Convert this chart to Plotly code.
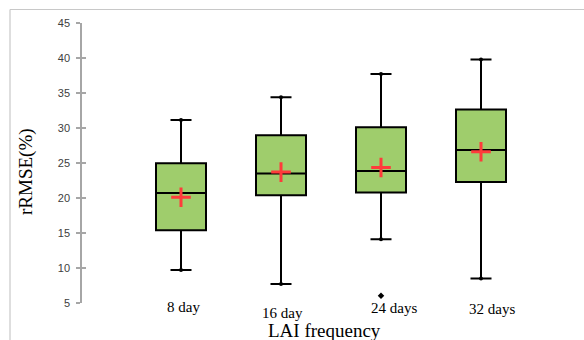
import plotly.graph_objects as go

categories = ["8 day", "16 day", "24 days", "32 days"]
lower_whisker = [9.7, 7.7, 14.1, 8.5]
q1_vals = [15.4, 20.4, 20.8, 22.3]
median_vals = [20.7, 23.5, 23.85, 26.85]
q3_vals = [24.95, 28.95, 30.1, 32.65]
upper_whisker = [31.15, 34.4, 37.7, 39.8]
mean_vals = [20.1, 23.7, 24.35, 26.6]
outlier_cat = ["24 days"]
outlier_vals = [6.05]

# label placement offsets (px) relative to category centre
label_dx = [2, 1, 13, 11]
label_y = [-0.013, -0.035, -0.0165, -0.022]

fig = go.Figure()
fig.add_trace(go.Box(
    x=categories, q1=q1_vals, median=median_vals, q3=q3_vals,
    lowerfence=lower_whisker, upperfence=upper_whisker,
    fillcolor="#9fcd6c", line=dict(color="black", width=2),
    width=0.5, whiskerwidth=0.42, boxpoints=False, showlegend=False,
    hoverinfo="skip",
))
# whisker end dots
fig.add_trace(go.Scatter(
    x=categories + categories, y=lower_whisker + upper_whisker, mode="markers",
    marker=dict(symbol="circle", size=4, color="black"), showlegend=False, hoverinfo="skip",
))
# means
fig.add_trace(go.Scatter(
    x=categories, y=mean_vals, mode="markers",
    marker=dict(symbol="cross-thin", size=14, line=dict(color="#ff3b3b", width=3)),
    showlegend=False, cliponaxis=False,
))
# outlier
fig.add_trace(go.Scatter(
    x=outlier_cat, y=outlier_vals, mode="markers",
    marker=dict(symbol="diamond", size=5, color="black"), showlegend=False, cliponaxis=False,
))
# invisible trace on y2 to show inner ticks
fig.add_trace(go.Scatter(x=categories, y=median_vals, yaxis="y2", mode="markers",
                         marker=dict(opacity=0), showlegend=False, hoverinfo="skip"))

annotations = []
for c, dx, yy in zip(categories, label_dx, label_y):
    annotations.append(dict(x=c, xref="x", y=yy, yref="paper", text=c, showarrow=False,
                            xshift=dx, yanchor="middle",
                            font=dict(family="Liberation Serif, Times New Roman, serif", size=15, color="black")))
annotations.append(dict(x=(324 - 82) / 499, xref="paper", y=(303 - 330) / 280, yref="paper",
                        text="LAI frequency", showarrow=False, yanchor="middle",
                        font=dict(family="Liberation Serif, Times New Roman, serif", size=19, color="black")))
annotations.append(dict(x=(26 - 82) / 499, xref="paper", y=(303 - 172) / 280, yref="paper",
                        text="rRMSE(%)", showarrow=False, textangle=-90, xanchor="center", yanchor="middle",
                        font=dict(family="Liberation Serif, Times New Roman, serif", size=19, color="black")))

fig.update_layout(
    width=584, height=340,
    margin=dict(l=82, r=3, t=23, b=37),
    paper_bgcolor="white", plot_bgcolor="white",
    xaxis=dict(type="category", categoryorder="array", categoryarray=categories,
               range=[-0.99, 4.0], showticklabels=False, ticks="", showline=False,
               showgrid=False, zeroline=False),
    yaxis=dict(range=[5, 45], tick0=5, dtick=5, ticks="outside", ticklen=4, tickwidth=1.5,
               tickcolor="#a6a6a6", showline=True, linecolor="#a6a6a6", linewidth=1.5,
               showgrid=False, zeroline=False, ticklabelstandoff=4,
               tickfont=dict(family="Liberation Sans, Arial, sans-serif", size=11, color="#404040")),
    yaxis2=dict(range=[5, 45], overlaying="y", side="left", tick0=5, dtick=5, ticks="inside",
                ticklen=4, tickwidth=1.5, tickcolor="#a6a6a6", showline=False,
                showticklabels=False, showgrid=False, zeroline=False),
    annotations=annotations,
    shapes=[
        dict(type="line", xref="paper", yref="paper", x0=(10 - 82) / 499, x1=(584 - 82) / 499,
             y0=(303 - 9.5) / 280, y1=(303 - 9.5) / 280, line=dict(color="#c8c8c8", width=1.2)),
        dict(type="line", xref="paper", yref="paper", x0=(10 - 82) / 499, x1=(10 - 82) / 499,
             y0=(303 - 9.5) / 280, y1=(303 - 345) / 280, line=dict(color="#c8c8c8", width=1.2)),
    ],
)

fig.write_html("out.html")
